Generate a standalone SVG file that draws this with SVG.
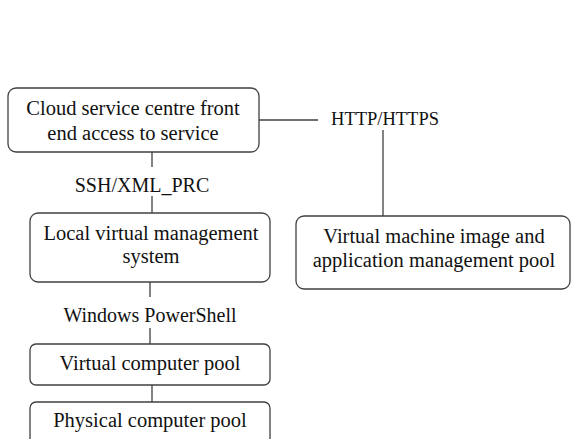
<svg xmlns="http://www.w3.org/2000/svg" width="571" height="439" viewBox="0 0 571 439">
<style>
.box{fill:#fff;stroke:#404040;stroke-width:1.3}
.ln{stroke:#404040;stroke-width:1.3;fill:none}
.t{font-family:'Liberation Serif','DejaVu Serif',serif;font-size:20.5px;fill:#111;text-anchor:middle}
.l{font-size:20px}
</style>
<rect width="571" height="439" fill="#fff"/>
<g id="connectors">
<line class="ln" x1="259" y1="120" x2="318" y2="120"/>
<line class="ln" x1="383" y1="130" x2="383" y2="216"/>
<line class="ln" x1="152" y1="152" x2="152" y2="167"/>
<line class="ln" x1="152" y1="196" x2="152" y2="213"/>
<line class="ln" x1="150" y1="282" x2="150" y2="297"/>
<line class="ln" x1="150" y1="328" x2="150" y2="344"/>
<line class="ln" x1="152" y1="385" x2="152" y2="402"/>
<text class="t" x="385" y="125" style="font-size:18.5px">HTTP/HTTPS</text>
<text class="t l" x="142" y="192">SSH/XML_PRC</text>
<text class="t l" x="150" y="322">Windows PowerShell</text>
</g>
<g id="cloud">
<rect class="box" x="8" y="88" width="251" height="64" rx="8"/>
<text class="t" x="133" y="115">Cloud service centre front</text>
<text class="t" x="133" y="140">end access to service</text>
</g>
<g id="vmpool">
<rect class="box" x="296" y="216" width="274" height="73" rx="8"/>
<text class="t" x="434" y="243">Virtual machine image and</text>
<text class="t" x="434" y="267">application management pool</text>
</g>
<g id="local">
<rect class="box" x="30" y="213" width="240" height="69" rx="8"/>
<text class="t" x="151" y="240">Local virtual management</text>
<text class="t" x="151" y="263">system</text>
</g>
<g id="virtual">
<rect class="box" x="30" y="344" width="240" height="41" rx="6"/>
<text class="t" x="150" y="370">Virtual computer pool</text>
</g>
<g id="physical">
<rect class="box" x="30" y="402" width="240" height="50" rx="6"/>
<text class="t" x="150" y="427">Physical computer pool</text>
</g>
</svg>
